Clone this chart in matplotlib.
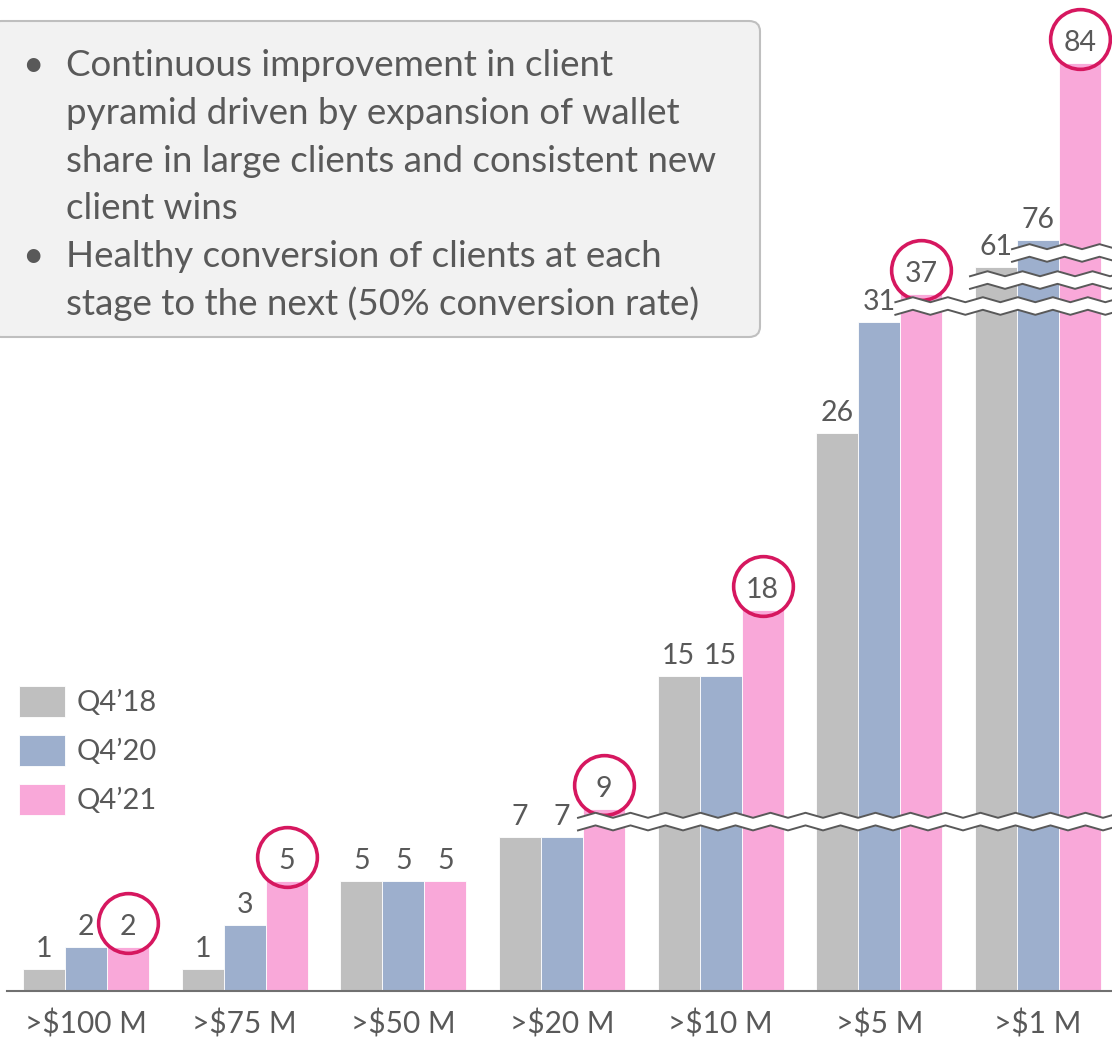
import numpy as np
import matplotlib
matplotlib.use('Agg')
import matplotlib.pyplot as plt
from matplotlib.patches import FancyBboxPatch, Polygon
from matplotlib.lines import Line2D
from matplotlib.transforms import offset_copy

plt.rcParams['font.family'] = ['Lato', 'DejaVu Sans']

# data
categories = ['>$100 M', '>$75 M', '>$50 M', '>$20 M', '>$10 M', '>$5 M', '>$1 M']
series = ['Q4’18', 'Q4’20', 'Q4’21']
q4_18 = [1, 1, 5, 7, 15, 26, 61]
q4_20 = [2, 3, 5, 7, 15, 31, 76]
q4_21 = [2, 5, 5, 9, 18, 37, 84]
circled = [True, True, False, True, True, True, True]

bullets = [
    ['Continuous improvement in client',
     'pyramid driven by expansion of wallet',
     'share in large clients and consistent new',
     'client wins'],
    ['Healthy conversion of clients at each',
     'stage to the next (50% conversion rate)'],
]

# broken value axis: value -> pixels above the baseline
axis_vals = [0, 8, 9, 31, 37, 61, 76, 100]
axis_px = [0, 176, 181.7, 669.3, 697, 724, 751, 1282.8]
# wavy break marks: level (value) and the bar (group, series) they start at
break_levels = [7.7, 34.4, 49.4, 68.8]
break_start = [(3, 2), (5, 2), (6, 0), (6, 1)]

colors = ['#BFBFBF', '#9DAFCD', '#F9A8D9']
txt_color = '#595959'
ring_color = '#D6175F'

W, H = 1112, 1037
fig = plt.figure(figsize=(W / 100, H / 100), dpi=100)
ax = fig.add_axes([7 / W, (H - 991) / H, (W - 7) / W, 991 / H])

fwd = lambda v: np.interp(v, axis_vals, axis_px)
inv = lambda p: np.interp(p, axis_px, axis_vals)
ax.set_yscale('function', functions=(fwd, inv))

x = np.arange(len(categories))
w = 42 / 158.67
conts = []
for k, vals in enumerate([q4_18, q4_20, q4_21]):
    c = ax.bar(x + (k - 1) * w, vals, w, color=colors[k], edgecolor='white',
               linewidth=0.6, label=series[k], zorder=2)
    ax.bar_label(c, padding=5, fontsize=20.5, color=txt_color)
    conts.append(c)

ax.set_xlim((7 - 86) / 158.67, (W - 86) / 158.67)
ax.set_ylim(0, inv(991))

ax.set_xticks(x, categories)
ax.tick_params(axis='x', length=0, pad=13, labelsize=21.5, labelcolor=txt_color)
ax.yaxis.set_visible(False)
for s in ['top', 'left', 'right']:
    ax.spines[s].set_visible(False)
ax.spines['bottom'].set_color('#707070')
ax.spines['bottom'].set_linewidth(1.5)

# rings around the Q4'21 labels
ring_tr = offset_copy(ax.transData, fig=fig, y=24, units='dots')
for i, v in enumerate(q4_21):
    if circled[i]:
        ax.plot(i + w, v, 'o', ms=43, mfc='none', mec=ring_color, mew=2.6,
                transform=ring_tr, clip_on=False, zorder=5)

ax.legend(handles=conts, labels=series, loc='upper left',
          bbox_to_anchor=(19 / W, 1 - 686 / H), bbox_transform=fig.transFigure,
          frameon=False, fontsize=21, handlelength=1.58, handleheight=1.25,
          handletextpad=0.38, labelspacing=0.62, borderpad=0, borderaxespad=0,
          labelcolor=txt_color)


# wavy break marks
def wavy_break(level, x0):
    yc = ax.transData.transform((0, level))[1]
    xs = np.arange(x0, W + 20, 17.5)
    zig = np.where(np.arange(len(xs)) % 2 == 0, -2.5, 2.5)
    up = yc + 6.3 + zig
    lo = yc - 6.3 + zig
    band = np.column_stack([np.r_[xs, xs[::-1]], np.r_[up, lo[::-1]]])
    band = band / [W, H]
    fig.add_artist(Polygon(band, closed=True, fc='white', ec='none',
                           transform=fig.transFigure, zorder=3))
    for yy in (up, lo):
        fig.add_artist(Line2D(xs / W, yy / H, color='#595959', lw=1.4,
                              transform=fig.transFigure, zorder=4))


for lev, (g, k) in zip(break_levels, break_start):
    left = g + (k - 1) * w - w / 2
    x0 = ax.transData.transform((left, 0))[0] - 5
    wavy_break(lev, x0)

# note box
box = FancyBboxPatch((-10 / W, 1 - 337 / H), 770 / W, 316 / H,
                     boxstyle='round,pad=0,rounding_size=0.01',
                     fc='#F2F2F2', ec='#BFBFBF', lw=1.5,
                     transform=fig.transFigure, zorder=6)
fig.add_artist(box)

line = 0
for lines in bullets:
    fig.text(33 / W, 1 - (76 + 47.8 * line) / H, '•', ha='center', va='baseline',
             fontsize=26.5, color=txt_color, zorder=7)
    for t in lines:
        fig.text(66 / W, 1 - (76 + 47.8 * line) / H, t, ha='left', va='baseline',
                 fontsize=26.5, color=txt_color, zorder=7)
        line += 1

fig.savefig('out.png', dpi=100)
